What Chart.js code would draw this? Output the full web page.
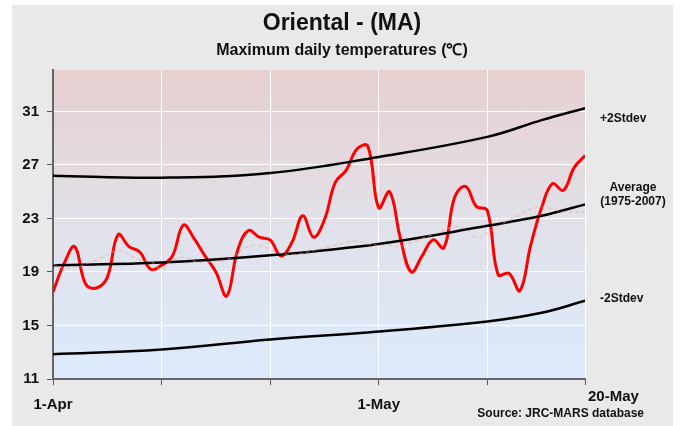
<!DOCTYPE html>
<html>
<head>
<meta charset="utf-8">
<script src="https://cdn.jsdelivr.net/npm/chart.js@4"></script>
<style>
  html, body { margin: 0; padding: 0; background: #fff; }
  #wrap { width: 682px; height: 426px; }
</style>
</head>
<body>
<div id="wrap"><canvas id="chart" width="682" height="426"></canvas></div>
<script>
// days since 1-Apr
const xTickDays = [0, 10, 20, 30, 40, 49];
const xTickText = ['1-Apr', '', '', '1-May', '', '20-May'];
const yTicks = [11, 15, 19, 23, 27, 31];

// max daily temperature, one value per day from 1-Apr to 20-May
const observed = [
  17.5, 19.6, 20.9, 18.1, 17.8, 18.6, 21.8, 20.9, 20.5, 19.2,
  19.5, 20.2, 22.5, 21.5, 20.2, 19.0, 17.2, 20.6, 22.1, 21.6,
  21.4, 20.2, 21.2, 23.2, 21.6, 22.9, 25.7, 26.6, 28.2, 28.4,
  23.8, 25.0, 21.5, 19.0, 20.2, 21.4, 20.8, 24.6, 25.4, 23.9,
  23.6, 18.8, 18.9, 17.6, 21.0, 23.8, 25.6, 25.1, 26.8, 27.7
];

// faint dashed series near the average
const previous = [
  19.6, 19.3, 19.3, 19.6, 19.9, 20.3, 20.6, 20.3, 19.9, 19.8,
  19.2, 19.9, 20.1, 19.8, 19.7, 19.8, 19.9, 20.4, 20.9, 21.0,
  20.7, 20.4, 20.3, 20.4, 20.6, 20.8, 21.0, 21.2, 21.3, 21.1,
  21.0, 21.0, 20.9, 21.2, 21.5, 21.8, 22.1, 22.4, 22.2, 21.6,
  21.9, 22.4, 22.9, 23.3, 23.7, 23.9, 23.7, 23.5, 23.5, 23.5
];

// long term reference curves, read at these days
const refDays = [0, 10, 20, 30, 40, 45, 49];
const plus2Stdev = [26.2, 26.05, 26.4, 27.6, 29.1, 30.35, 31.25];
const average = [19.5, 19.7, 20.25, 21.1, 22.45, 23.2, 24.05];
const minus2Stdev = [12.85, 13.2, 13.95, 14.55, 15.3, 15.95, 16.85];

const FONT = "'Liberation Sans', Arial, sans-serif";

const asPoints = (days, vals) => vals.map((v, i) => ({ x: days[i], y: v }));
const daily = vals => vals.map((v, i) => ({ x: i, y: v }));

const decor = {
  id: 'decor',
  beforeDraw(chart) {
    const { ctx, chartArea: a } = chart;
    ctx.save();
    ctx.fillStyle = '#ffffff';
    ctx.fillRect(0, 0, chart.width, chart.height);
    ctx.fillStyle = '#e9e9e9';
    ctx.fillRect(12, 5, 661, 421);
    const g = ctx.createLinearGradient(0, a.top, 0, a.bottom);
    g.addColorStop(0, '#e7cfcf');
    g.addColorStop(0.5, '#e1e1ea');
    g.addColorStop(1, '#dcebfc');
    ctx.fillStyle = g;
    ctx.fillRect(a.left, a.top, a.right - a.left, a.bottom - a.top);
    ctx.restore();
  },
  afterDraw(chart) {
    const { ctx, chartArea: a, scales } = chart;
    const y = scales.y, x = scales.x;
    ctx.save();
    ctx.fillStyle = '#111';
    ctx.textAlign = 'center';
    ctx.textBaseline = 'middle';
    ctx.font = 'bold 23px ' + FONT;
    ctx.fillText('Oriental - (MA)', 342, 24);
    ctx.font = 'bold 16px ' + FONT;
    ctx.fillText('Maximum daily temperatures (\u2103)', 342, 51);

    ctx.font = 'bold 12px ' + FONT;
    ctx.textAlign = 'left';
    ctx.fillText('+2Stdev', a.right + 15, y.getPixelForValue(plus2Stdev[plus2Stdev.length - 1]) + 11);
    ctx.fillText('-2Stdev', a.right + 15, y.getPixelForValue(minus2Stdev[minus2Stdev.length - 1]) - 2);
    ctx.textAlign = 'center';
    const avgY = y.getPixelForValue(average[average.length - 1]);
    ctx.fillText('Average', a.right + 48, avgY - 17);
    ctx.fillText('(1975-2007)', a.right + 48, avgY - 3);

    ctx.font = 'bold 15px ' + FONT;
    ctx.textAlign = 'left';
    ctx.fillText(xTickText[xTickText.length - 1], x.getPixelForValue(xTickDays[xTickDays.length - 1]) + 3, a.bottom + 18);
    ctx.font = 'bold 12px ' + FONT;
    ctx.textAlign = 'right';
    ctx.fillText('Source: JRC-MARS database', 644, a.bottom + 35);
    ctx.restore();
  }
};

new Chart(document.getElementById('chart'), {
  type: 'line',
  data: {
    datasets: [
      {
        label: 'previous',
        data: daily(previous),
        borderColor: 'rgba(240,160,150,0.45)',
        borderWidth: 1.5,
        borderDash: [4, 3],
        tension: 0.4
      },
      {
        label: '+2Stdev',
        data: asPoints(refDays, plus2Stdev),
        borderColor: '#000',
        borderWidth: 2.5,
        tension: 0.4
      },
      {
        label: 'Average',
        data: asPoints(refDays, average),
        borderColor: '#000',
        borderWidth: 2.5,
        tension: 0.4
      },
      {
        label: '-2Stdev',
        data: asPoints(refDays, minus2Stdev),
        borderColor: '#000',
        borderWidth: 2.5,
        tension: 0.4
      },
      {
        label: 'Observed',
        data: daily(observed),
        borderColor: '#ff0000',
        borderWidth: 3,
        tension: 0.4
      }
    ]
  },
  options: {
    responsive: false,
    animation: false,
    layout: { padding: { top: 70, left: 10, right: 97, bottom: 0 } },
    elements: { point: { radius: 0 } },
    plugins: {
      legend: { display: false },
      tooltip: { enabled: false }
    },
    scales: {
      x: {
        type: 'linear',
        min: 0,
        max: 49,
        afterBuildTicks: s => { s.ticks = xTickDays.map(v => ({ value: v })); },
        afterFit: s => { s.height = 47; },
        grid: { color: '#ffffff', lineWidth: 1, tickColor: '#555', tickLength: 6 },
        border: { color: '#666', width: 2 },
        ticks: {
          autoSkip: false,
          maxRotation: 0,
          padding: 11,
          color: '#111',
          font: { family: FONT, size: 15, weight: 'bold' },
          callback: v => {
            const i = xTickDays.indexOf(v);
            return i >= 0 && i < xTickDays.length - 1 ? xTickText[i] : '';
          }
        }
      },
      y: {
        min: 11,
        max: 34.1,
        afterBuildTicks: s => { s.ticks = yTicks.map(v => ({ value: v })); },
        afterFit: s => { s.width = 43; },
        grid: { color: '#ffffff', lineWidth: 1, tickColor: '#555', tickLength: 6 },
        border: { color: '#666', width: 2 },
        ticks: {
          padding: 8,
          color: '#111',
          font: { family: FONT, size: 15, weight: 'bold' }
        }
      }
    }
  },
  plugins: [decor]
});
</script>
</body>
</html>
